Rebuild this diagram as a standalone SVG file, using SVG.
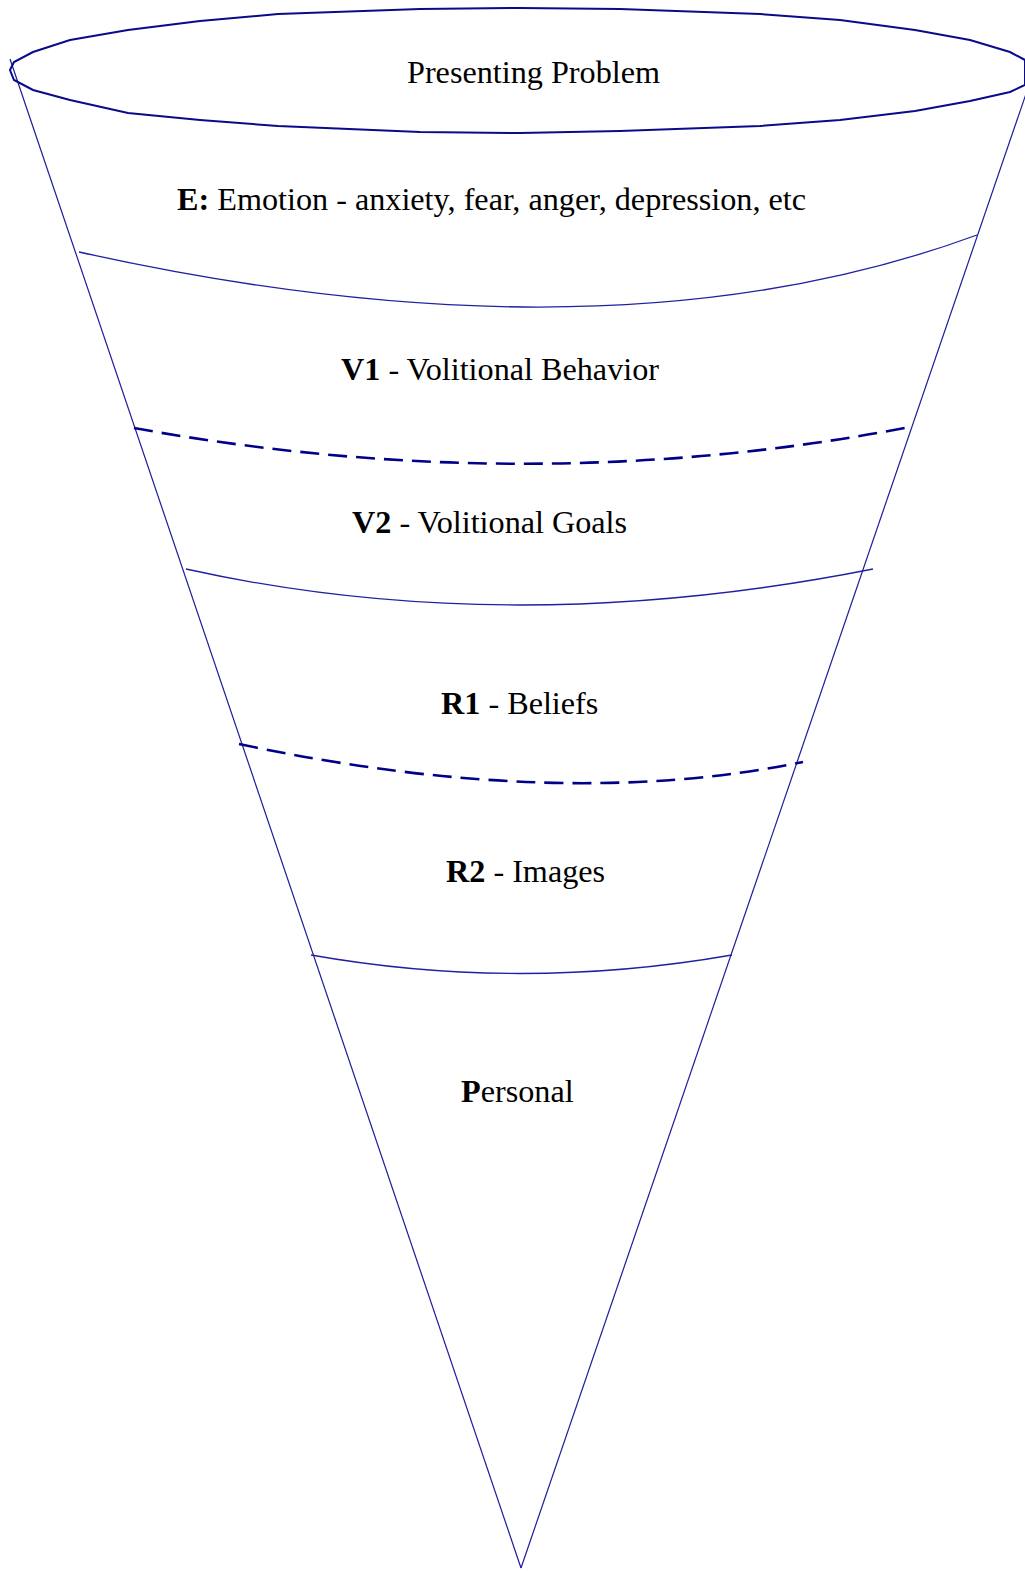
<svg xmlns="http://www.w3.org/2000/svg" width="1025" height="1571" viewBox="0 0 1025 1571">
<style>
.t{font-family:"Liberation Serif","Times New Roman",serif;font-size:32.2px;fill:#000}
.b{font-weight:bold}
.cone{fill:none;stroke:#1c1c96;stroke-width:1.2}
.rim{fill:none;stroke:#0a0a8a;stroke-width:2}
.solid{fill:none;stroke:#2020a0;stroke-width:1.3}
.dash{fill:none;stroke:#000088;stroke-width:2.6;stroke-dasharray:19 9}
</style>
<rect width="1025" height="1571" fill="#fff"/>
<g id="connectors">
<line class="cone" x1="10" y1="59" x2="521" y2="1568"/>
<line class="cone" x1="1028" y1="88" x2="521" y2="1568"/>
<path class="solid" d="M79,252 Q610,370 977,235"/>
<path class="dash" d="M134,428 Q530,500 910,427"/>
<path class="solid" d="M186,569 Q510,641 873,569"/>
<path class="dash" d="M239,744 Q560,812 803,762"/>
<path class="solid" d="M311,955 Q520,992 732,955"/>
</g>
<g id="rim">
<polygon class="rim" points="10,70 14,62 33,52 70,40 128,30 200,21 278,14 420,9 520,8 620,9 760,14 840,20 915,30 970,40 1010,52 1025,60 1025,85 1010,92 970,101 915,111 840,120 760,126 620,131 520,133 420,132 278,126 200,120 128,113 70,100 33,90 14,80"/>
</g>
<g id="node-presenting"><text class="t" x="407" y="83">Presenting Problem</text></g>
<g id="node-e"><text class="t" x="177" y="210"><tspan class="b">E:</tspan> Emotion - anxiety, fear, anger, depression, etc</text></g>
<g id="node-v1"><text class="t" x="341" y="380"><tspan class="b">V1</tspan> - Volitional Behavior</text></g>
<g id="node-v2"><text class="t" x="352" y="533"><tspan class="b">V2</tspan> - Volitional Goals</text></g>
<g id="node-r1"><text class="t" x="441" y="714"><tspan class="b">R1</tspan> - Beliefs</text></g>
<g id="node-r2"><text class="t" x="446" y="882"><tspan class="b">R2</tspan> - Images</text></g>
<g id="node-p"><text class="t" x="461" y="1102"><tspan class="b">P</tspan>ersonal</text></g>
</svg>
